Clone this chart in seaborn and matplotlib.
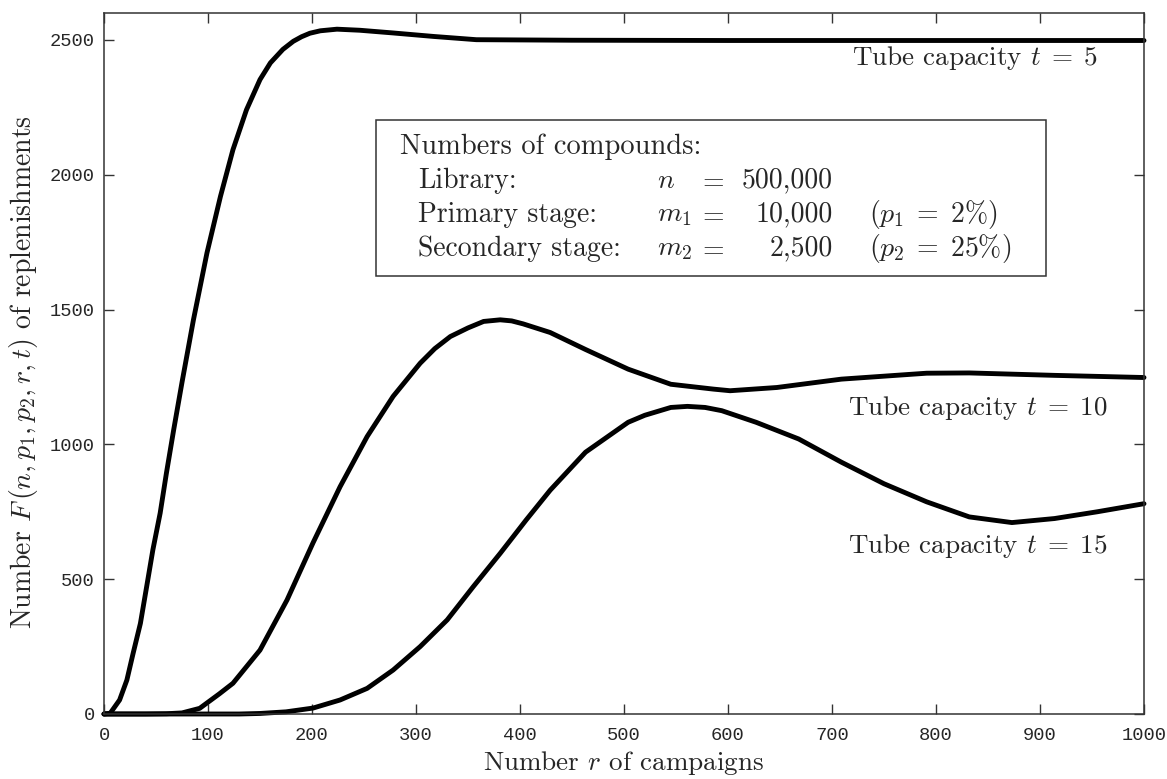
import numpy as np
import pandas as pd
import matplotlib
matplotlib.use("Agg")
import matplotlib.pyplot as plt
from matplotlib.patches import Rectangle
import seaborn as sns

# ---- data ----
r_t5 = [0, 6, 15, 22, 28, 35, 41, 47, 54, 60, 67, 75, 86, 99, 112, 124, 137, 150,
        160, 172, 182, 190, 198, 208, 224, 246, 278, 317, 358, 450, 600, 800, 1000]
f_t5 = [0, 3, 52, 126, 225, 336, 472, 609, 745, 893, 1054, 1230, 1462, 1710, 1920,
        2093, 2241, 2353, 2415, 2465, 2495, 2512, 2525, 2534, 2540, 2536, 2526, 2513,
        2501, 2499, 2498, 2498, 2498]

r_t10 = [0, 40, 60, 75, 92, 111, 124, 150, 176, 201, 227, 253, 278, 304, 318, 333,
         350, 365, 381, 392, 403, 429, 463, 504, 545, 586, 602, 647, 709, 791, 832,
         914, 1000]
f_t10 = [0, 0, 1, 4, 21, 75, 114, 237, 423, 635, 843, 1029, 1178, 1301, 1355, 1400,
         1432, 1456, 1462, 1458, 1447, 1415, 1352, 1279, 1223, 1205, 1199, 1211, 1242,
         1264, 1265, 1256, 1248]

r_t15 = [0, 100, 130, 150, 175, 201, 227, 253, 278, 304, 330, 355, 381, 406, 429, 463,
         504, 520, 545, 561, 578, 594, 627, 668, 709, 750, 791, 832, 873, 914, 955, 1000]
f_t15 = [0, 0, 0, 2, 8, 22, 52, 95, 163, 250, 349, 472, 596, 720, 830, 971, 1082,
         1108, 1137, 1141, 1137, 1125, 1082, 1020, 934, 854, 787, 731, 710, 725, 750, 780]

capacities = ["t = 5", "t = 10", "t = 15"]
x_ticks = [0, 100, 200, 300, 400, 500, 600, 700, 800, 900, 1000]
y_ticks = [0, 500, 1000, 1500, 2000, 2500]

df = pd.concat([
    pd.DataFrame({"r": r_t5, "F": f_t5, "cap": capacities[0]}),
    pd.DataFrame({"r": r_t10, "F": f_t10, "cap": capacities[1]}),
    pd.DataFrame({"r": r_t15, "F": f_t15, "cap": capacities[2]}),
])

sns.set_theme(style="ticks")
plt.rcParams["font.family"] = ["cmr10", "DejaVu Serif"]
plt.rcParams["mathtext.fontset"] = "cm"
plt.rcParams["axes.unicode_minus"] = False
plt.rcParams["axes.formatter.use_mathtext"] = True

fig = plt.figure(figsize=(11.67, 7.79), dpi=100)
ax = fig.add_axes([104 / 1167, 65 / 779, 1040 / 1167, 701 / 779])

sns.lineplot(data=df, x="r", y="F", hue="cap", units="cap", estimator=None,
             palette=["black", "black", "black"], linewidth=3.5, legend=False,
             ax=ax, sort=False)
for ln in ax.lines:
    ln.set_clip_on(False)
    ln.set_solid_joinstyle("round")

ax.set_xlim(0, 1000)
ax.set_ylim(0, 2600)
ax.set_xticks(x_ticks)
ax.set_yticks(y_ticks)
ax.set_xticklabels([str(v) for v in x_ticks], family="Liberation Mono", fontsize=13.5)
ax.set_yticklabels([str(v) for v in y_ticks], family="Liberation Mono", fontsize=13.5)
ax.tick_params(direction="in", length=7, width=1, top=True, right=True,
               color="#333333")
ax.tick_params(axis="x", pad=9.5)
ax.tick_params(axis="y", pad=6.5)
for s in ax.spines.values():
    s.set_linewidth(1.1)
    s.set_color("#333333")

ax.set_xlabel("Number $r$ of campaigns", fontsize=19.5)
ax.xaxis.label.set_va("baseline")
ax.xaxis.set_label_coords(0.5, (714 - 770) / 701)
ax.set_ylabel("Number $F\\,(n, p_1, p_2, r, t)$ of replenishments", fontsize=20)
ax.yaxis.set_label_coords(-0.062, 0.488)

# curve labels
lab_fs = 19.5
ax.text(955.8, 2408, "Tube capacity $t\\;=\\;5$", ha="right", va="baseline",
        fontsize=lab_fs)
ax.text(965, 1109, "Tube capacity $t\\;=\\;10$", ha="right", va="baseline",
        fontsize=lab_fs)
ax.text(965, 597, "Tube capacity $t\\;=\\;15$", ha="right", va="baseline",
        fontsize=lab_fs)

# info box
ax.add_patch(Rectangle((261.5, 1625), 644.3, 579, fill=False, edgecolor="#333333",
                       linewidth=1.1, zorder=3))
fs = 20
ax.text(284.6, 2078, "Numbers of compounds:", ha="left", va="baseline",
        fontsize=20.5)
rows_y = [1952, 1826, 1700]
names = ["Library:", "Primary stage:", "Secondary stage:"]
syms = ["$n$", "$m_1$", "$m_2$"]
nums = ["500,000", "10,000", "2,500"]
pct = ["", "$(p_1\\;=\\;2\\%)$", "$(p_2\\;=\\;25\\%)$"]
for yv, nm, sy, nu, pc in zip(rows_y, names, syms, nums, pct):
    ax.text(302, yv, nm, ha="left", va="baseline", fontsize=fs)
    ax.text(531.7, yv, sy, ha="left", va="baseline", fontsize=fs)
    ax.text(571, yv, "$=$", ha="left", va="baseline", fontsize=fs)
    ax.text(701, yv, nu, ha="right", va="baseline", fontsize=fs)
    if pc:
        ax.text(736, yv, pc, ha="left", va="baseline", fontsize=fs)

fig.savefig("out.png", dpi=100)
